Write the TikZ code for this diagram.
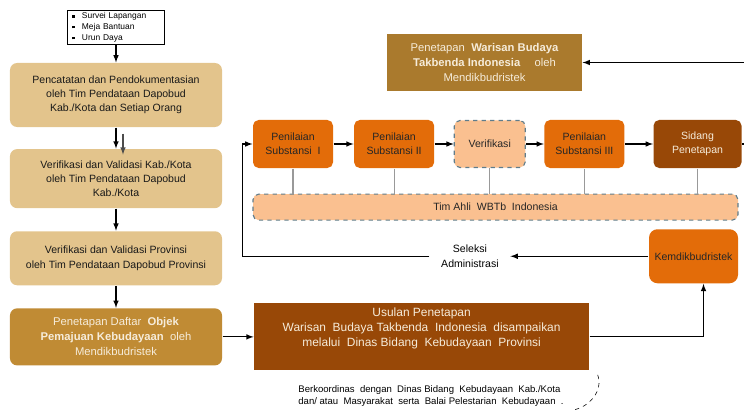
\documentclass[tikz,border=0pt]{standalone}
\usepackage{fontspec}
\setmainfont{Liberation Sans}
\usetikzlibrary{positioning, calc, arrows.meta}

\definecolor{tanbox}{RGB}{227,196,140}
\definecolor{goldbox}{RGB}{192,139,52}
\definecolor{ochrebox}{RGB}{170,122,45}
\definecolor{brownbox}{RGB}{152,72,7}
\definecolor{orangebox}{RGB}{227,108,9}
\definecolor{peachbox}{RGB}{250,192,144}
\definecolor{dashline}{RGB}{95,125,140}
\definecolor{creamtxt}{RGB}{246,236,218}
\newcommand{\sqbul}{\rule[0.6pt]{1.8pt}{1.8pt}\hspace{5pt}}

\begin{document}
\begin{tikzpicture}[>=latex, thick, x=0.25mm, y=-0.25mm]
\tikzset{
  blk/.style  ={fill=tanbox, rounded corners=5pt, align=center, inner sep=2pt, minimum width=53mm, font=\fontsize{7.5}{10}\selectfont, text=black!90},
  list/.style ={draw, thin, align=left, inner xsep=1.2mm, inner ysep=1.5pt, text width=21.8mm, font=\fontsize{6}{7.8}\selectfont},
  stage/.style={fill=orangebox, rounded corners=4pt, align=center, minimum width=20mm, minimum height=12mm, font=\fontsize{7.5}{10}\selectfont, text=black!85},
  dbox/.style ={fill=peachbox, draw=dashline, dashed, line width=0.8pt, rounded corners=4pt, align=center, font=\fontsize{7.5}{10}\selectfont, text=black!85},
  plain/.style={align=center, font=\fontsize{8.5}{10.6}\selectfont, text=creamtxt},
  link/.style ={draw=black!40, line width=0.9pt}
}
\useasboundingbox (0,0) rectangle (744,412);

% left column
\node[blk, minimum height=16mm] (b1) at (116,95) {Pencatatan dan Pendokumentasian\\oleh Tim Pendataan Dapobud\\Kab./Kota dan Setiap Orang};
\node[list, above=4.5mm of b1] (src) {\sqbul Survei Lapangan\\\sqbul Meja Bantuan\\\sqbul Urun Daya};
\node[blk, minimum height=14.75mm, below=5.25mm of b1] (b2) {Verifikasi dan Validasi Kab./Kota\\oleh Tim Pendataan Dapobud\\Kab./Kota};
\node[blk, minimum height=13.5mm, below=5.5mm of b2] (b3) {Verifikasi dan Validasi Provinsi\\oleh Tim Pendataan Dapobud Provinsi};
\node[blk, fill=goldbox, text=creamtxt, font=\fontsize{8}{10.6}\selectfont, minimum height=14.25mm, below=5.5mm of b3] (b4) {Penetapan Daftar \ \textbf{Objek}\\\textbf{Pemajuan Kebudayaan} \ oleh\\Mendikbudristek};

\draw[->] (src) -- (b1);
\draw[->] (b1) -- (b2);
\draw[->, black!70] ([xshift=1.75mm, yshift=-1.5mm]b1.south) -- ([xshift=1.75mm, yshift=-1.5mm]b2.north);
\draw[->] (b2) -- (b3);
\draw[->] (b3) -- (b4);

% usulan
\node[plain, fill=brownbox, minimum width=83.75mm, minimum height=14.25mm, right=7.75mm of b4] (usul) {Usulan Penetapan\\Warisan \ Budaya Takbenda \ Indonesia \ disampaikan\\melalui \ Dinas Bidang \ Kebudayaan \ Provinsi\\[3pt]};
\draw[->] (b4) -- (usul);

% row of stages
\node[stage] (ps1) at (293,144) {Penilaian\\Substansi \ I};
\node[stage, right=5mm of ps1] (ps2) {Penilaian\\Substansi II};
\node[dbox, minimum width=17.75mm, minimum height=11.75mm, right=4.75mm of ps2] (ver) {Verifikasi};
\node[stage, right=4.5mm of ver] (ps3) {Penilaian\\Substansi III};
\node[stage, fill=brownbox, text=creamtxt, minimum width=22mm, right=7mm of ps3] (sid) {Sidang\\Penetapan};

\draw[->] (ps1) -- (ps2);
\draw[->] (ps2) -- (ver);
\draw[->] (ver) -- (ps3);
\draw[->] (ps3) -- (sid);

% tim ahli
\node[dbox, minimum width=121.25mm, minimum height=6.5mm, below=6.25mm of ps1.south west, anchor=north west] (tim) {Tim Ahli \ WBTb \ Indonesia};
\foreach \s in {ps1, ps2, ver, ps3, sid}
  \draw[link] (\s) -- (\s |- tim.north);

% kementerian
\node[stage, minimum width=22.25mm, minimum height=13.5mm, rounded corners=6pt, below=2mm of tim.south east, anchor=north east] (kem) {Kemdikbudristek};
\node[align=center, inner xsep=8pt, font=\fontsize{7.5}{10}\selectfont, left=34.5mm of kem] (sel) {Seleksi\\Administrasi};
\coordinate (turn) at ($(ps1.west)+(-2.5mm,0)$);

\draw[->] (usul.east) -| ([xshift=2.5mm]kem.south);
\draw[->] (kem.west) -- (sel.east);
\draw[->] (sel.west) -| (turn) -- (ps1.west);

% penetapan
\node[plain, fill=ochrebox, font=\fontsize{8}{10.6}\selectfont, minimum width=48.75mm, minimum height=14.25mm] (pen) at (484.5,62.5) {Penetapan \ \textbf{Warisan Budaya}\\\textbf{Takbenda Indonesia} \quad oleh\\Mendikbudristek};
\draw[->] (sid.east) -- ++(5mm,0) |- (pen.east);

% catatan
\node[align=left, font=\fontsize{6.8}{9}\selectfont] (note) at (431,396) {Berkoordinas \ dengan \ Dinas Bidang \ Kebudayaan \ Kab./Kota\\dan/ atau \ Masyarakat \ serta \ Balai Pelestarian \ Kebudayaan \ .};
\draw[dashed, thin] ([shift={(2mm,-1mm)}]usul.south east) to[out=-70, in=10] ([shift={(1mm,0.5mm)}]note.south east);

\end{tikzpicture}
\end{document}
